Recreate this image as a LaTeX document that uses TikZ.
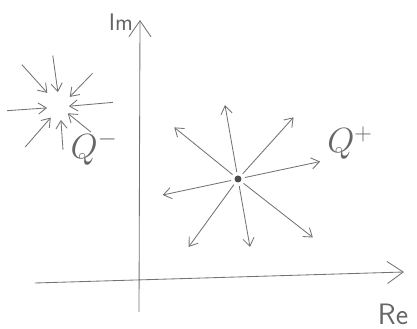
\documentclass[tikz,border=0pt]{standalone}
\usetikzlibrary{arrows.meta}
\begin{document}
\begin{tikzpicture}[x=0.025cm, y=0.025cm, font=\sffamily,
    pencil/.style={black!55, line width=0.6pt},
    axisarrow/.style={pencil, -{Straight Barb[length=4mm,width=5.5mm]}},
    fieldarrow/.style={pencil, -{Straight Barb[length=2mm,width=2.8mm]}},
    label/.style={text=black!60, inner sep=0pt}]
  \useasboundingbox (0,0) rectangle (417,329);
  % axes
  \coordinate (imstart) at (139,17);
  \coordinate (imend) at (140,309);
  \coordinate (restart) at (35,46);
  \coordinate (reend) at (404,57);
  \draw[axisarrow] (imstart) -- (imend);
  \draw[axisarrow] (restart) -- (reend);
  \node[label, font=\sffamily\fontsize{17}{17}\selectfont] (im) at (121,307) {Im};
  \node[label, font=\sffamily\fontsize{21}{21}\selectfont] (re) at (393,15) {Re};
  % positive charge, field lines pointing out
  \coordinate (qp) at (238,150);
  \fill[black!70] (qp) circle (3.5);
  \foreach \a/\r in {100/75, 141/82, 48/83, 12/84, 192/77, 234/84, 280/69, 322/95} {
    \path (qp) ++(\a:7) coordinate (qpin) (qp) ++(\a:\r) coordinate (qpout);
    \draw[fieldarrow] (qpin) -- (qpout);
  }
  \node[label, font=\fontsize{23}{23}\selectfont] (qplus) at (350,186) {$Q^{+}$};
  % negative charge, field lines pointing in
  \coordinate (qm) at (60,222);
  \foreach \a/\ro/\ri in {184/53/13, 132/57/19, 98/52/15, 46/47/14, 5/53/9, 229/53/14, 274/43/13, 321/40/10} {
    \path (qm) ++(\a:\ro) coordinate (qmout) (qm) ++(\a:\ri) coordinate (qmin);
    \draw[fieldarrow] (qmout) -- (qmin);
  }
  \node[label, font=\fontsize{23}{23}\selectfont] (qminus) at (94,181) {$Q^{-}$};
\end{tikzpicture}
\end{document}
